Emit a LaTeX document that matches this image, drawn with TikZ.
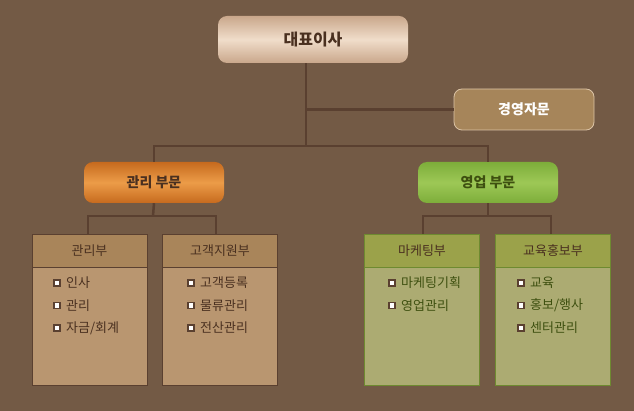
\documentclass[tikz,border=0pt]{standalone}
\usepackage{fontspec}
\setmainfont{Noto Sans CJK KR}
\usetikzlibrary{positioning}

\definecolor{bgbrown}{HTML}{735A45}
\definecolor{linebrown}{HTML}{5A4030}
\definecolor{ceoin}{HTML}{F0DDCA}
\definecolor{ceoout}{HTML}{C9A78B}
\definecolor{advfill}{HTML}{A6855A}
\definecolor{advline}{HTML}{DCC4A6}
\definecolor{orgin}{HTML}{EC9C48}
\definecolor{orgout}{HTML}{C66A1E}
\definecolor{grnin}{HTML}{9DC856}
\definecolor{grnout}{HTML}{7DAD3A}
\definecolor{bhead}{HTML}{A9855A}
\definecolor{bbody}{HTML}{B99670}
\definecolor{ghead}{HTML}{9BA24A}
\definecolor{gbody}{HTML}{ACAB72}
\definecolor{gline}{HTML}{6E8A30}
\definecolor{btext}{HTML}{4A3020}
\definecolor{gtext}{HTML}{3E5010}

\tikzset{
  orgline/.style={draw=linebrown, line width=2.5pt},
  ceobox/.style={rounded corners=9pt, minimum width=190pt, minimum height=47pt,
    top color=ceoout, bottom color=ceoout, middle color=ceoin,
    font=\fontsize{16pt}{19pt}\selectfont\bfseries, text=btext},
  advbox/.style={rounded corners=8pt, minimum width=140pt, minimum height=41pt,
    fill=advfill, draw=advline, line width=0.8pt,
    font=\fontsize{14pt}{17pt}\selectfont\bfseries, text=white},
  partbox/.style={rounded corners=9pt, minimum width=140pt, minimum height=41pt,
    font=\fontsize{14pt}{17pt}\selectfont\bfseries},
  deptbody/.style={minimum width=115pt, minimum height=151pt, line width=0.8pt},
  depthead/.style={minimum width=115pt, minimum height=33pt, anchor=north,
    line width=0.8pt, font=\fontsize{13pt}{15pt}\selectfont},
  bullet/.style={draw=linebrown, fill=white, line width=1.2pt,
    minimum size=6pt, inner sep=0pt},
  itemtext/.style={anchor=west, inner sep=0pt, font=\fontsize{13pt}{15pt}\selectfont}
}

\begin{document}
\begin{tikzpicture}[x=1pt,y=-1pt]
  \fill[bgbrown] (0,0) rectangle (634,411);
  \useasboundingbox (0,0) rectangle (634,411);

  % 윗단
  \node[ceobox] (ceo) at (313,39.5) {대표이사};
  \node[advbox] (adv) at (524,109.5) {경영자문};
  \node[partbox, top color=orgout, bottom color=orgout, middle color=orgin, text=btext]
    (mgmt) at (154,182.5) {관리 부문};
  \node[partbox, top color=grnout, bottom color=grnout, middle color=grnin, text=gtext]
    (sales) at (488,182.5) {영업 부문};

  \coordinate (spine) at (306,146);
  \coordinate (mgmtbar) at (153,216);
  \coordinate (salesbar) at (488,216);

  % 부서 상자
  \node[deptbody, fill=bbody, draw=linebrown] (gwanri) at (89.5,309.5) {};
  \node[deptbody, fill=bbody, draw=linebrown] (gogaek) at (220,309.5) {};
  \node[deptbody, fill=gbody, draw=gline] (maketing) at (422,309.5) {};
  \node[deptbody, fill=gbody, draw=gline] (gyoyuk) at (553,309.5) {};
  \node[depthead, fill=bhead, draw=linebrown, text=btext] (gwanrih) at (gwanri.north) {관리부};
  \node[depthead, fill=bhead, draw=linebrown, text=btext] (gogaekh) at (gogaek.north) {고객지원부};
  \node[depthead, fill=ghead, draw=gline, text=btext] (maketingh) at (maketing.north) {마케팅부};
  \node[depthead, fill=ghead, draw=gline, text=btext] (gyoyukh) at (gyoyuk.north) {교육홍보부};

  % 연결선
  \draw[orgline] (ceo.south -| spine) -- (spine);
  \draw[orgline] (spine |- adv.west) -- (adv.west);
  \draw[orgline] (mgmt.north) |- (spine) -| (sales.north);
  \draw[orgline] (mgmt.south) -- (mgmtbar);
  \draw[orgline] ([xshift=-1.5pt]gwanrih.north) |- (mgmtbar) -| ([xshift=-4pt]gogaekh.north);
  \draw[orgline] (sales.south) -- (salesbar);
  \draw[orgline] ([xshift=1pt]maketingh.north) |- (salesbar) -| ([xshift=-2pt]gyoyukh.north);

  % 항목
  \foreach \t [count=\i] in {인사,관리,자금/회계} {
    \node[bullet] (gwb\i) at (57,{283+22.5*(\i-1)}) {};
    \node[itemtext, text=btext] (gwt\i) at (66,{283+22.5*(\i-1)}) {\t};
  }
  \foreach \t [count=\i] in {고객등록,물류관리,전산관리} {
    \node[bullet] (gob\i) at (191,{283+22.5*(\i-1)}) {};
    \node[itemtext, text=btext] (got\i) at (200,{283+22.5*(\i-1)}) {\t};
  }
  \foreach \t [count=\i] in {마케팅기획,영업관리} {
    \node[bullet] (mab\i) at (392,{283+22.5*(\i-1)}) {};
    \node[itemtext, text=gtext] (mat\i) at (401,{283+22.5*(\i-1)}) {\t};
  }
  \foreach \t [count=\i] in {교육,홍보/행사,센터관리} {
    \node[bullet] (gyb\i) at (521,{283+22.5*(\i-1)}) {};
    \node[itemtext, text=gtext] (gyt\i) at (530,{283+22.5*(\i-1)}) {\t};
  }
\end{tikzpicture}
\end{document}
